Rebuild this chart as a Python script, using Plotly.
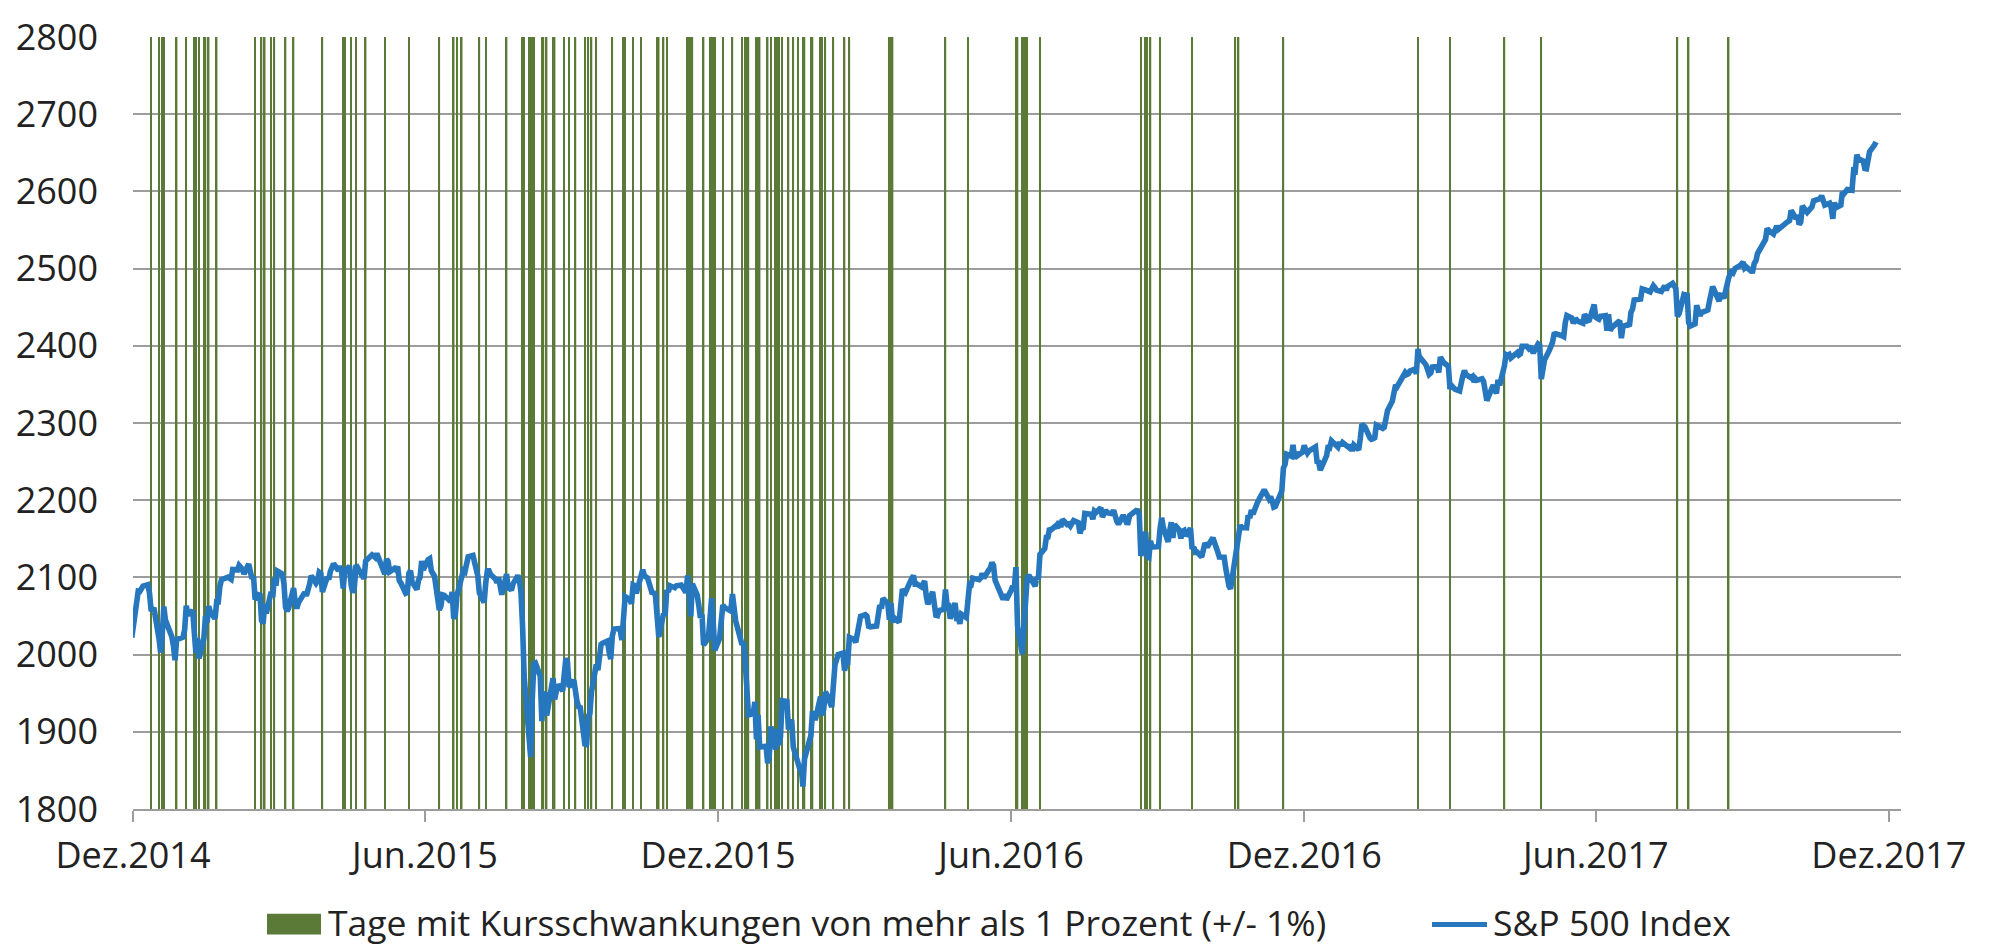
import plotly.graph_objects as go

# ---------------- data ----------------
sp500_dates = [
    # 2014-12
    "2014-12-19","2014-12-22","2014-12-23","2014-12-24","2014-12-26","2014-12-29","2014-12-30","2014-12-31",
    # 2015-01
    "2015-01-02","2015-01-05","2015-01-06","2015-01-07","2015-01-08","2015-01-09","2015-01-12","2015-01-13","2015-01-14","2015-01-15",
    "2015-01-16","2015-01-20","2015-01-21","2015-01-22","2015-01-23","2015-01-26","2015-01-27","2015-01-28","2015-01-29","2015-01-30",
    # 2015-02
    "2015-02-02","2015-02-03","2015-02-04","2015-02-05","2015-02-06","2015-02-09","2015-02-10","2015-02-11","2015-02-12","2015-02-13",
    "2015-02-17","2015-02-18","2015-02-19","2015-02-20","2015-02-23","2015-02-24","2015-02-25","2015-02-26","2015-02-27",
    # 2015-03
    "2015-03-02","2015-03-03","2015-03-04","2015-03-05","2015-03-06","2015-03-09","2015-03-10","2015-03-11","2015-03-12","2015-03-13",
    "2015-03-16","2015-03-17","2015-03-18","2015-03-19","2015-03-20","2015-03-23","2015-03-24","2015-03-25","2015-03-26","2015-03-27",
    "2015-03-30","2015-03-31",
    # 2015-04
    "2015-04-01","2015-04-02","2015-04-06","2015-04-07","2015-04-08","2015-04-09","2015-04-10","2015-04-13","2015-04-14","2015-04-15",
    "2015-04-16","2015-04-17","2015-04-20","2015-04-21","2015-04-22","2015-04-23","2015-04-24","2015-04-27","2015-04-28","2015-04-29",
    "2015-04-30",
    # 2015-05
    "2015-05-01","2015-05-04","2015-05-05","2015-05-06","2015-05-07","2015-05-08","2015-05-11","2015-05-12","2015-05-13","2015-05-14",
    "2015-05-15","2015-05-18","2015-05-19","2015-05-20","2015-05-21","2015-05-22","2015-05-26","2015-05-27","2015-05-28","2015-05-29",
    # 2015-06
    "2015-06-01","2015-06-02","2015-06-03","2015-06-04","2015-06-05","2015-06-08","2015-06-09","2015-06-10","2015-06-11","2015-06-12",
    "2015-06-15","2015-06-16","2015-06-17","2015-06-18","2015-06-19","2015-06-22","2015-06-23","2015-06-24","2015-06-25","2015-06-26",
    "2015-06-29","2015-06-30",
    # 2015-07
    "2015-07-01","2015-07-02","2015-07-06","2015-07-07","2015-07-08","2015-07-09","2015-07-10","2015-07-13","2015-07-14","2015-07-15",
    "2015-07-16","2015-07-17","2015-07-20","2015-07-21","2015-07-22","2015-07-23","2015-07-24","2015-07-27","2015-07-28","2015-07-29",
    "2015-07-30","2015-07-31",
    # 2015-08
    "2015-08-03","2015-08-04","2015-08-05","2015-08-06","2015-08-07","2015-08-10","2015-08-11","2015-08-12","2015-08-13","2015-08-14",
    "2015-08-17","2015-08-18","2015-08-19","2015-08-20","2015-08-21","2015-08-24","2015-08-25","2015-08-26","2015-08-27","2015-08-28",
    "2015-08-31",
    # 2015-09
    "2015-09-01","2015-09-02","2015-09-03","2015-09-04","2015-09-08","2015-09-09","2015-09-10","2015-09-11","2015-09-14","2015-09-15",
    "2015-09-16","2015-09-17","2015-09-18","2015-09-21","2015-09-22","2015-09-23","2015-09-24","2015-09-25","2015-09-28","2015-09-29",
    "2015-09-30",
    # 2015-10
    "2015-10-01","2015-10-02","2015-10-05","2015-10-06","2015-10-07","2015-10-08","2015-10-09","2015-10-12","2015-10-13","2015-10-14",
    "2015-10-15","2015-10-16","2015-10-19","2015-10-20","2015-10-21","2015-10-22","2015-10-23","2015-10-26","2015-10-27","2015-10-28",
    "2015-10-29","2015-10-30",
    # 2015-11
    "2015-11-02","2015-11-03","2015-11-04","2015-11-05","2015-11-06","2015-11-09","2015-11-10","2015-11-11","2015-11-12","2015-11-13",
    "2015-11-16","2015-11-17","2015-11-18","2015-11-19","2015-11-20","2015-11-23","2015-11-24","2015-11-25","2015-11-27","2015-11-30",
    # 2015-12
    "2015-12-01","2015-12-02","2015-12-03","2015-12-04","2015-12-07","2015-12-08","2015-12-09","2015-12-10","2015-12-11","2015-12-14",
    "2015-12-15","2015-12-16","2015-12-17","2015-12-18","2015-12-21","2015-12-22","2015-12-23","2015-12-24","2015-12-28","2015-12-29",
    "2015-12-30","2015-12-31",
    # 2016-01
    "2016-01-04","2016-01-05","2016-01-06","2016-01-07","2016-01-08","2016-01-11","2016-01-12","2016-01-13","2016-01-14","2016-01-15",
    "2016-01-19","2016-01-20","2016-01-21","2016-01-22","2016-01-25","2016-01-26","2016-01-27","2016-01-28","2016-01-29",
    # 2016-02
    "2016-02-01","2016-02-02","2016-02-03","2016-02-04","2016-02-05","2016-02-08","2016-02-09","2016-02-10","2016-02-11","2016-02-12",
    "2016-02-16","2016-02-17","2016-02-18","2016-02-19","2016-02-22","2016-02-23","2016-02-24","2016-02-25","2016-02-26","2016-02-29",
    # 2016-03
    "2016-03-01","2016-03-02","2016-03-03","2016-03-04","2016-03-07","2016-03-08","2016-03-09","2016-03-10","2016-03-11","2016-03-14",
    "2016-03-15","2016-03-16","2016-03-17","2016-03-18","2016-03-21","2016-03-22","2016-03-23","2016-03-24","2016-03-28","2016-03-29",
    "2016-03-30","2016-03-31",
    # 2016-04
    "2016-04-01","2016-04-04","2016-04-05","2016-04-06","2016-04-07","2016-04-08","2016-04-11","2016-04-12","2016-04-13","2016-04-14",
    "2016-04-15","2016-04-18","2016-04-19","2016-04-20","2016-04-21","2016-04-22","2016-04-25","2016-04-26","2016-04-27","2016-04-28",
    "2016-04-29",
    # 2016-05
    "2016-05-02","2016-05-03","2016-05-04","2016-05-05","2016-05-06","2016-05-09","2016-05-10","2016-05-11","2016-05-12","2016-05-13",
    "2016-05-16","2016-05-17","2016-05-18","2016-05-19","2016-05-20","2016-05-23","2016-05-24","2016-05-25","2016-05-26","2016-05-27",
    "2016-05-31",
    # 2016-06
    "2016-06-01","2016-06-02","2016-06-03","2016-06-06","2016-06-07","2016-06-08","2016-06-09","2016-06-10","2016-06-13","2016-06-14",
    "2016-06-15","2016-06-16","2016-06-17","2016-06-20","2016-06-21","2016-06-22","2016-06-23","2016-06-24","2016-06-27","2016-06-28",
    "2016-06-29","2016-06-30",
    # 2016-07
    "2016-07-01","2016-07-05","2016-07-06","2016-07-07","2016-07-08","2016-07-11","2016-07-12","2016-07-13","2016-07-14","2016-07-15",
    "2016-07-18","2016-07-19","2016-07-20","2016-07-21","2016-07-22","2016-07-25","2016-07-26","2016-07-27","2016-07-28","2016-07-29",
    # 2016-08
    "2016-08-01","2016-08-02","2016-08-03","2016-08-04","2016-08-05","2016-08-08","2016-08-09","2016-08-10","2016-08-11","2016-08-12",
    "2016-08-15","2016-08-16","2016-08-17","2016-08-18","2016-08-19","2016-08-22","2016-08-23","2016-08-24","2016-08-25","2016-08-26",
    "2016-08-29","2016-08-30","2016-08-31",
    # 2016-09
    "2016-09-01","2016-09-02","2016-09-06","2016-09-07","2016-09-08","2016-09-09","2016-09-12","2016-09-13","2016-09-14","2016-09-15",
    "2016-09-16","2016-09-19","2016-09-20","2016-09-21","2016-09-22","2016-09-23","2016-09-26","2016-09-27","2016-09-28","2016-09-29",
    "2016-09-30",
    # 2016-10
    "2016-10-03","2016-10-04","2016-10-05","2016-10-06","2016-10-07","2016-10-10","2016-10-11","2016-10-12","2016-10-13","2016-10-14",
    "2016-10-17","2016-10-18","2016-10-19","2016-10-20","2016-10-21","2016-10-24","2016-10-25","2016-10-26","2016-10-27","2016-10-28",
    "2016-10-31",
    # 2016-11
    "2016-11-01","2016-11-02","2016-11-03","2016-11-04","2016-11-07","2016-11-08","2016-11-09","2016-11-10","2016-11-11","2016-11-14",
    "2016-11-15","2016-11-16","2016-11-17","2016-11-18","2016-11-21","2016-11-22","2016-11-23","2016-11-25","2016-11-28","2016-11-29",
    "2016-11-30",
    # 2016-12
    "2016-12-01","2016-12-02","2016-12-05","2016-12-06","2016-12-07","2016-12-08","2016-12-09","2016-12-12","2016-12-13","2016-12-14",
    "2016-12-15","2016-12-16","2016-12-19","2016-12-20","2016-12-21","2016-12-22","2016-12-23","2016-12-27","2016-12-28","2016-12-29",
    "2016-12-30",
    # 2017-01
    "2017-01-03","2017-01-04","2017-01-05","2017-01-06","2017-01-09","2017-01-10","2017-01-11","2017-01-12","2017-01-13","2017-01-17",
    "2017-01-18","2017-01-19","2017-01-20","2017-01-23","2017-01-24","2017-01-25","2017-01-26","2017-01-27","2017-01-30","2017-01-31",
    # 2017-02
    "2017-02-01","2017-02-02","2017-02-03","2017-02-06","2017-02-07","2017-02-08","2017-02-09","2017-02-10","2017-02-13","2017-02-14",
    "2017-02-15","2017-02-16","2017-02-17","2017-02-21","2017-02-22","2017-02-23","2017-02-24","2017-02-27","2017-02-28",
    # 2017-03
    "2017-03-01","2017-03-02","2017-03-03","2017-03-06","2017-03-07","2017-03-08","2017-03-09","2017-03-10","2017-03-13","2017-03-14",
    "2017-03-15","2017-03-16","2017-03-17","2017-03-20","2017-03-21","2017-03-22","2017-03-23","2017-03-24","2017-03-27","2017-03-28",
    "2017-03-29","2017-03-30","2017-03-31",
    # 2017-04
    "2017-04-03","2017-04-04","2017-04-05","2017-04-06","2017-04-07","2017-04-10","2017-04-11","2017-04-12","2017-04-13","2017-04-17",
    "2017-04-18","2017-04-19","2017-04-20","2017-04-21","2017-04-24","2017-04-25","2017-04-26","2017-04-27","2017-04-28",
    # 2017-05
    "2017-05-01","2017-05-02","2017-05-03","2017-05-04","2017-05-05","2017-05-08","2017-05-09","2017-05-10","2017-05-11","2017-05-12",
    "2017-05-15","2017-05-16","2017-05-17","2017-05-18","2017-05-19","2017-05-22","2017-05-23","2017-05-24","2017-05-25","2017-05-26",
    "2017-05-30","2017-05-31",
    # 2017-06
    "2017-06-01","2017-06-02","2017-06-05","2017-06-06","2017-06-07","2017-06-08","2017-06-09","2017-06-12","2017-06-13","2017-06-14",
    "2017-06-15","2017-06-16","2017-06-19","2017-06-20","2017-06-21","2017-06-22","2017-06-23","2017-06-26","2017-06-27","2017-06-28",
    "2017-06-29","2017-06-30",
    # 2017-07
    "2017-07-03","2017-07-05","2017-07-06","2017-07-07","2017-07-10","2017-07-11","2017-07-12","2017-07-13","2017-07-14","2017-07-17",
    "2017-07-18","2017-07-19","2017-07-20","2017-07-21","2017-07-24","2017-07-25","2017-07-26","2017-07-27","2017-07-28","2017-07-31",
    # 2017-08
    "2017-08-01","2017-08-02","2017-08-03","2017-08-04","2017-08-07","2017-08-08","2017-08-09","2017-08-10","2017-08-11","2017-08-14",
    "2017-08-15","2017-08-16","2017-08-17","2017-08-18","2017-08-21","2017-08-22","2017-08-23","2017-08-24","2017-08-25","2017-08-28",
    "2017-08-29","2017-08-30","2017-08-31",
    # 2017-09
    "2017-09-01","2017-09-05","2017-09-06","2017-09-07","2017-09-08","2017-09-11","2017-09-12","2017-09-13","2017-09-14","2017-09-15",
    "2017-09-18","2017-09-19","2017-09-20","2017-09-21","2017-09-22","2017-09-25","2017-09-26","2017-09-27","2017-09-28","2017-09-29",
    # 2017-10
    "2017-10-02","2017-10-03","2017-10-04","2017-10-05","2017-10-06","2017-10-09","2017-10-10","2017-10-11","2017-10-12","2017-10-13",
    "2017-10-16","2017-10-17","2017-10-18","2017-10-19","2017-10-20","2017-10-23","2017-10-24","2017-10-25","2017-10-26","2017-10-27",
    "2017-10-30","2017-10-31",
    # 2017-11
    "2017-11-01","2017-11-02","2017-11-03","2017-11-06","2017-11-07","2017-11-08","2017-11-09","2017-11-10","2017-11-13","2017-11-14",
    "2017-11-15","2017-11-16","2017-11-17","2017-11-20","2017-11-21","2017-11-22","2017-11-24","2017-11-27","2017-11-28","2017-11-29",
    "2017-11-30",
    # 2017-12
    "2017-12-01","2017-12-04","2017-12-05","2017-12-06","2017-12-07","2017-12-08","2017-12-11","2017-12-12",
]

sp500_close = [
    # 2014-12
    2022.0,2078.5,2082.2,2081.9,2088.8,2090.6,2080.4,2058.9,
    # 2015-01
    2058.2,2020.6,2002.6,2025.9,2062.1,2044.8,2028.3,2023.0,2011.3,1992.7,
    2019.4,2022.6,2032.1,2063.2,2051.8,2057.1,2029.6,2002.2,2021.3,1995.0,
    # 2015-02
    2020.9,2050.0,2041.5,2062.5,2055.5,2046.7,2068.6,2068.5,2088.5,2097.0,
    2100.3,2099.7,2097.5,2110.3,2109.7,2115.5,2113.9,2110.7,2104.5,
    # 2015-03
    2117.4,2107.8,2098.5,2101.0,2071.3,2079.4,2044.2,2040.2,2066.0,2053.4,
    2081.2,2074.3,2099.5,2089.3,2108.1,2104.4,2091.5,2061.1,2056.2,2061.0,
    2086.2,2067.9,
    # 2015-04
    2059.7,2067.0,2080.6,2076.3,2081.9,2091.2,2102.1,2092.4,2095.8,2106.6,
    2105.0,2081.2,2100.4,2097.3,2108.0,2112.9,2117.7,2108.9,2114.8,2106.9,
    2085.5,
    # 2015-05
    2108.3,2114.5,2089.5,2080.2,2088.0,2116.1,2105.3,2099.1,2098.5,2121.1,
    2122.7,2129.2,2127.8,2125.9,2130.8,2126.1,2104.2,2123.5,2120.8,2107.4,
    # 2015-06
    2111.7,2109.6,2114.1,2095.8,2092.8,2079.3,2080.2,2105.2,2108.9,2094.1,
    2084.4,2096.3,2100.4,2121.2,2110.0,2122.9,2124.2,2108.6,2102.3,2101.5,
    2057.6,2063.1,
    # 2015-07
    2077.4,2076.8,2068.8,2081.3,2046.7,2051.3,2076.6,2099.6,2109.0,2107.4,
    2124.3,2126.6,2128.3,2119.2,2114.2,2102.2,2079.7,2067.6,2093.3,2108.6,
    2108.6,2103.8,
    # 2015-08
    2098.0,2093.3,2099.8,2083.6,2077.6,2104.2,2084.1,2086.1,2083.4,2091.5,
    2102.4,2096.9,2079.6,2035.7,1970.9,1893.2,1867.6,1940.5,1987.7,1988.9,
    1972.2,
    # 2015-09
    1913.9,1948.9,1951.1,1921.2,1969.4,1942.0,1952.3,1961.1,1953.0,1978.1,
    1995.3,1990.2,1958.0,1967.0,1942.7,1938.8,1932.2,1931.3,1881.8,1884.1,
    1920.0,
    # 2015-10
    1923.8,1951.4,1987.1,1979.9,1995.8,2013.4,2014.9,2017.5,2003.7,1994.2,
    2023.9,2033.1,2033.7,2030.8,2018.9,2052.5,2075.2,2071.2,2065.9,2090.4,
    2089.4,2079.4,
    # 2015-11
    2104.1,2109.8,2102.3,2099.9,2099.2,2078.6,2081.7,2075.0,2046.0,2023.0,
    2053.2,2050.4,2083.6,2081.2,2089.2,2086.6,2089.1,2088.9,2090.1,2080.4,
    # 2015-12
    2102.6,2079.5,2049.6,2091.7,2077.1,2063.6,2047.6,2052.2,2012.4,2021.9,
    2043.4,2073.1,2041.9,2005.6,2021.2,2039.0,2064.3,2061.0,2056.5,2078.4,
    2063.4,2043.9,
    # 2016-01
    2012.7,2016.7,1990.3,1943.1,1922.0,1923.7,1938.7,1890.3,1921.8,1880.3,
    1881.3,1859.3,1869.0,1906.9,1877.1,1903.6,1883.0,1893.4,1940.2,
    # 2016-02
    1939.4,1903.0,1912.5,1915.5,1880.1,1853.4,1852.2,1851.9,1829.1,1864.8,
    1895.6,1926.8,1917.8,1917.8,1945.5,1921.3,1929.8,1951.7,1948.1,1932.2,
    # 2016-03
    1978.4,1986.5,1993.4,2000.0,2001.8,1979.3,1989.3,1989.6,2022.2,2019.6,
    2015.9,2027.2,2040.6,2049.6,2051.6,2049.8,2036.7,2035.9,2037.1,2055.0,
    2064.0,2059.7,
    # 2016-04
    2072.8,2066.1,2045.2,2066.7,2041.9,2047.6,2042.0,2061.7,2082.4,2082.8,
    2080.7,2094.3,2100.8,2102.4,2091.5,2091.6,2087.8,2091.7,2095.2,2075.8,
    2065.3,
    # 2016-05
    2081.4,2063.4,2051.1,2050.6,2057.1,2058.7,2084.4,2064.5,2064.1,2046.6,
    2066.7,2047.2,2047.6,2040.0,2052.3,2048.0,2076.1,2090.5,2090.1,2099.1,
    2097.0,
    # 2016-06
    2099.3,2105.3,2099.1,2109.4,2112.1,2119.1,2115.5,2096.1,2079.1,2075.3,
    2071.5,2078.0,2071.2,2083.3,2088.9,2085.5,2113.3,2037.4,2000.5,2036.1,
    2070.8,2098.9,
    # 2016-07
    2103.0,2088.6,2099.7,2097.9,2129.9,2137.2,2152.1,2152.4,2163.8,2161.7,
    2166.9,2163.8,2173.0,2165.2,2175.0,2168.5,2169.2,2166.6,2170.1,2173.6,
    # 2016-08
    2170.8,2157.0,2163.8,2164.3,2182.9,2180.9,2181.7,2175.5,2185.8,2184.1,
    2190.2,2178.2,2182.2,2187.0,2183.9,2182.6,2186.9,2175.4,2172.5,2169.0,
    2180.4,2176.1,2171.0,
    # 2016-09
    2170.9,2180.0,2186.5,2186.2,2181.3,2127.8,2159.0,2127.0,2125.8,2147.3,
    2139.2,2139.1,2139.8,2163.1,2177.2,2164.7,2146.1,2159.9,2171.4,2151.1,
    2168.3,
    # 2016-10
    2161.2,2150.5,2159.7,2160.8,2153.7,2163.7,2136.7,2139.2,2132.6,2133.0,
    2126.5,2139.6,2144.3,2141.3,2141.2,2151.3,2143.2,2139.4,2133.0,2126.4,
    2126.2,
    # 2016-11
    2111.7,2097.9,2088.7,2085.2,2131.5,2139.6,2163.3,2167.5,2164.5,2164.2,
    2180.4,2176.9,2187.1,2181.9,2198.2,2202.9,2204.7,2213.4,2201.7,2204.7,
    2198.8,
    # 2016-12
    2191.1,2192.0,2204.7,2212.2,2241.4,2246.2,2259.5,2257.0,2271.7,2253.3,
    2262.0,2258.1,2262.5,2270.8,2265.2,2261.0,2263.8,2268.9,2249.9,2249.3,
    2238.8,
    # 2017-01
    2257.8,2270.8,2269.0,2277.0,2268.9,2268.9,2275.3,2270.4,2274.6,2267.9,
    2271.9,2263.7,2271.3,2265.2,2280.1,2298.4,2296.7,2294.7,2280.9,2278.9,
    # 2017-02
    2279.6,2280.9,2297.4,2292.6,2293.1,2294.7,2307.9,2316.1,2328.3,2337.6,
    2349.3,2347.2,2351.2,2365.4,2362.8,2363.8,2367.3,2369.8,2363.6,
    # 2017-03
    2396.0,2381.9,2383.1,2375.3,2368.4,2363.0,2364.9,2372.6,2373.5,2365.5,
    2385.3,2381.4,2378.3,2373.5,2344.0,2348.5,2346.0,2344.0,2341.6,2358.6,
    2361.1,2368.1,2362.7,
    # 2017-04
    2358.8,2360.2,2353.0,2357.5,2355.5,2357.2,2353.8,2344.9,2329.0,2349.0,
    2342.2,2338.2,2355.8,2348.7,2374.2,2388.6,2387.5,2388.8,2384.2,
    # 2017-05
    2388.3,2391.2,2388.1,2389.5,2399.3,2399.4,2396.9,2399.6,2394.4,2390.9,
    2402.3,2400.7,2357.0,2365.7,2381.7,2394.0,2398.4,2404.4,2415.1,2415.8,
    2412.9,2411.8,
    # 2017-06
    2430.1,2439.1,2436.1,2429.3,2433.1,2433.8,2431.8,2429.4,2440.4,2437.9,
    2432.5,2433.2,2453.5,2437.0,2435.6,2434.5,2438.3,2439.1,2419.4,2440.7,
    2419.7,2423.4,
    # 2017-07
    2429.0,2432.5,2409.8,2425.2,2427.4,2425.5,2443.3,2447.8,2459.3,2459.1,
    2460.6,2473.8,2473.5,2472.5,2469.9,2477.1,2477.8,2475.4,2472.1,2470.3,
    # 2017-08
    2476.4,2477.6,2472.2,2476.8,2480.9,2474.9,2474.0,2438.2,2441.3,2465.8,
    2464.6,2468.1,2430.0,2425.6,2428.4,2452.5,2444.0,2439.0,2443.1,2444.2,
    2446.3,2457.6,2471.7,
    # 2017-09
    2476.6,2457.9,2465.5,2465.1,2461.4,2488.1,2496.5,2498.4,2495.6,2500.2,
    2503.9,2506.7,2508.2,2500.6,2502.2,2496.7,2496.8,2507.0,2510.1,2519.4,
    # 2017-10
    2529.1,2534.6,2537.7,2552.1,2549.3,2544.7,2550.6,2555.2,2550.9,2553.2,
    2557.6,2559.4,2561.3,2562.1,2575.2,2565.0,2569.1,2557.2,2560.4,2581.1,
    2572.8,2575.3,
    # 2017-11
    2579.4,2579.9,2587.8,2591.1,2590.6,2594.4,2584.6,2582.3,2584.8,2578.9,
    2564.6,2585.6,2578.9,2582.1,2599.0,2597.1,2602.4,2601.4,2627.0,2626.1,
    2647.6,
    # 2017-12
    2642.2,2639.4,2629.6,2629.3,2637.0,2651.5,2660.0,2664.1,
]

# Days with moves larger than +/- 1 %
big_move_dates = [
    "2014-12-31",
    "2015-01-05","2015-01-07","2015-01-08","2015-01-16","2015-01-22","2015-01-27","2015-01-28","2015-01-30",
    "2015-02-02","2015-02-03","2015-02-05","2015-02-10",
    "2015-03-06","2015-03-10","2015-03-12","2015-03-16","2015-03-18","2015-03-25","2015-03-30",
    "2015-04-17","2015-04-30","2015-05-01","2015-05-05","2015-05-08","2015-05-14","2015-05-26",
    "2015-06-10","2015-06-29","2015-07-08","2015-07-10","2015-07-13","2015-07-24","2015-07-28",
    "2015-08-10","2015-08-20","2015-08-21","2015-08-24","2015-08-25","2015-08-26","2015-08-27",
    "2015-09-01","2015-09-02","2015-09-04","2015-09-08","2015-09-09","2015-09-15","2015-09-18","2015-09-22",
    "2015-09-28","2015-09-30",
    "2015-10-02","2015-10-05","2015-10-15","2015-10-22","2015-10-23","2015-10-28",
    "2015-11-02","2015-11-12","2015-11-13","2015-11-16","2015-11-18",
    "2015-12-01","2015-12-02","2015-12-03","2015-12-04","2015-12-11","2015-12-15","2015-12-16","2015-12-17",
    "2015-12-18","2015-12-23","2015-12-29",
    "2016-01-04","2016-01-06","2016-01-07","2016-01-08","2016-01-13","2016-01-14","2016-01-15","2016-01-20",
    "2016-01-22","2016-01-25","2016-01-26","2016-01-27","2016-01-29",
    "2016-02-02","2016-02-05","2016-02-08","2016-02-11","2016-02-12","2016-02-16","2016-02-17","2016-02-22",
    "2016-02-23","2016-02-25",
    "2016-03-01","2016-03-08","2016-03-11",
    "2016-04-05","2016-04-06","2016-04-07",
    "2016-05-10","2016-05-24",
    "2016-06-23","2016-06-24","2016-06-27","2016-06-28","2016-06-29","2016-06-30",
    "2016-07-08",
    "2016-09-09","2016-09-12","2016-09-13","2016-09-15","2016-09-21",
    "2016-10-11",
    "2016-11-07","2016-11-09",
    "2016-12-07",
    "2017-03-01","2017-03-21","2017-04-24","2017-05-17","2017-08-10","2017-08-17","2017-09-11",
]

y_min, y_max = 1800, 2800
tick_dates = ["2014-12-19 18:00", "2015-06-20", "2015-12-20", "2016-06-20",
              "2016-12-20", "2017-06-20", "2017-12-20"]
tick_labels = ["Dez.2014", "Jun.2015", "Dez.2015", "Jun.2016",
               "Dez.2016", "Jun.2017", "Dez.2017"]
x_range = ["2014-12-19 18:00", "2017-12-27 14:00"]

name_bars = "Tage mit Kursschwankungen von mehr als 1 Prozent (+/- 1%)"
name_line = "S&P 500 Index"

assert len(sp500_dates) == len(sp500_close), (len(sp500_dates), len(sp500_close))

# ---------------- styling ----------------
GREEN = "#5b7a38"
BLUE = "#2677bd"
GRID = "#9d9d9d"
TEXT = "#222222"
FONT = "Open Sans"
FS = 36
FS_LEG = 35.5

W, H = 1991, 947
# plot area in page pixels: x 133..1901, y 27..809
ML, MT = 133, 27
MR = W - 1901
MB = H - 809
PW, PH = W - ML - MR, H - MT - MB


def px_x(x):  # pixel -> paper
    return (x - ML) / PW


def px_y(y):  # pixel -> paper
    return (H - MB - y) / PH


fig = go.Figure()
fig.add_trace(go.Bar(
    x=big_move_dates, y=[y_max] * len(big_move_dates),
    width=86400000 * 0.95,
    marker=dict(color=GREEN, line=dict(width=0)),
    name=name_bars, showlegend=False, hoverinfo="x",
))
fig.add_trace(go.Scatter(
    x=sp500_dates, y=sp500_close, mode="lines",
    line=dict(color=BLUE, width=5.6),
    name=name_line, showlegend=False,
))

# custom legend (matches the wide swatches of the original)
LEG_Y = 923
shapes = [
    dict(type="rect", xref="paper", yref="paper",
         x0=px_x(267), x1=px_x(321), y0=px_y(936), y1=px_y(915),
         fillcolor=GREEN, line=dict(width=0)),
    dict(type="line", xref="paper", yref="paper",
         x0=px_x(1432), x1=px_x(1487), y0=px_y(926), y1=px_y(926),
         line=dict(color=BLUE, width=5)),
]
annotations = [
    dict(text=name_bars, xref="paper", yref="paper", x=px_x(326), y=px_y(LEG_Y),
         xanchor="left", yanchor="middle", showarrow=False,
         font=dict(family=FONT, size=FS_LEG, color=TEXT)),
    dict(text=name_line, xref="paper", yref="paper", x=px_x(1491), y=px_y(LEG_Y),
         xanchor="left", yanchor="middle", showarrow=False,
         font=dict(family=FONT, size=FS_LEG, color=TEXT)),
]

fig.update_layout(
    width=W, height=H,
    margin=dict(l=ML, r=MR, t=MT, b=MB, pad=0),
    paper_bgcolor="white", plot_bgcolor="white",
    font=dict(family=FONT, size=FS, color=TEXT),
    showlegend=False,
    barmode="overlay",
    shapes=shapes, annotations=annotations,
    xaxis=dict(
        type="date", range=x_range,
        tickmode="array", tickvals=tick_dates, ticktext=tick_labels,
        ticks="outside", ticklen=11, tickwidth=1.5, tickcolor=GRID,
        showgrid=False, zeroline=False,
        showline=True, linecolor=GRID, linewidth=1.5,
        tickfont=dict(family=FONT, size=FS, color=TEXT),
        ticklabelstandoff=3, ticklabeloverflow="allow",
    ),
    yaxis=dict(
        range=[y_min, y_max], tick0=1800, dtick=100,
        showgrid=True, gridcolor=GRID, gridwidth=1.5,
        zeroline=False, showline=False, ticks="",
        tickfont=dict(family=FONT, size=FS, color=TEXT),
        ticklabelstandoff=34, ticklabeloverflow="allow",
    ),
)

# remove the default 8 px body margin so the 1991x947 figure fills the window exactly
fig.write_html(
    "out.html",
    config={"displayModeBar": False},
    post_script="document.body.style.margin='0';document.body.style.overflow='hidden';",
)
